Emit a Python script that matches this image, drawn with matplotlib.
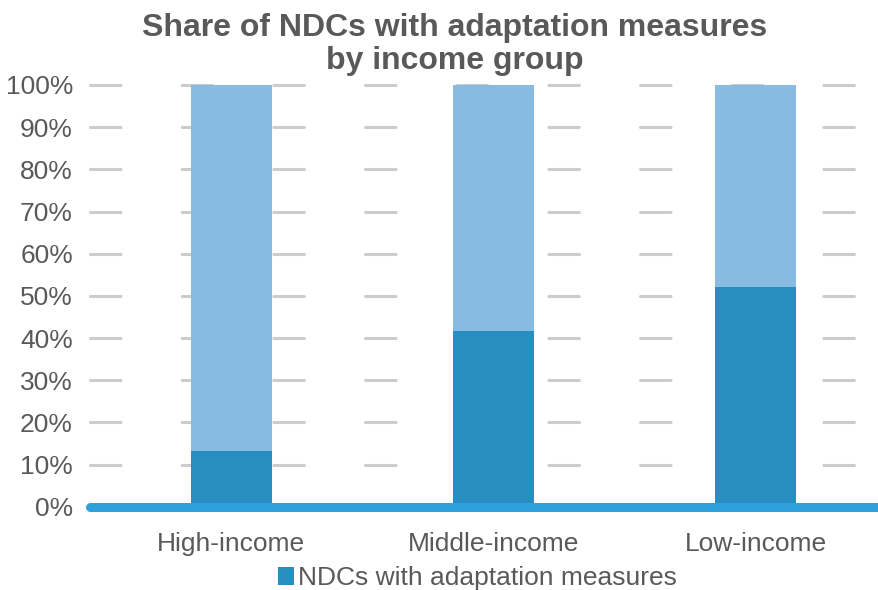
import matplotlib.pyplot as plt
import numpy as np

categories = ['High-income', 'Middle-income', 'Low-income']
with_adaptation = [13.3, 41.7, 52.0]
total = [100, 100, 100]
yticks = [0, 10, 20, 30, 40, 50, 60, 70, 80, 90, 100]

dark = '#288DC1'
light = '#88BBE2'
grey_txt = '#595959'

plt.rcParams['font.family'] = ['Liberation Sans', 'DejaVu Sans']

fig = plt.figure(figsize=(8.79, 5.90), dpi=100)
ax = fig.add_axes([0.102, 0.141, 0.898, 0.715])

x = np.arange(len(categories))
rest = [t - w for t, w in zip(total, with_adaptation)]
ax.bar(x, with_adaptation, width=0.31, color=dark, zorder=3,
       label='NDCs with adaptation measures')
ax.bar(x, rest, width=0.31, bottom=with_adaptation, color=light, zorder=3)

# sketchy dashed gridlines
for t in yticks[1:]:
    ln = ax.axhline(t, color='#CCCCCC', lw=2.2, zorder=1, clip_on=False,
                    solid_capstyle='round', dash_capstyle='round')
    ln.set_dashes([10, 20])
# thick baseline
ax.axhline(0, color='#2EA0DA', lw=6.5, zorder=4, clip_on=False,
           solid_capstyle='round')

ax.set_xlim(-0.54, 2.47)
ax.set_ylim(0, 100)
ax.set_yticks(yticks)
ax.set_yticklabels([f'{t}%' for t in yticks])
ax.set_xticks(x)
ax.set_xticklabels(categories)
ax.tick_params(axis='both', length=0, labelsize=19, labelcolor=grey_txt)
ax.tick_params(axis='x', pad=18)
ax.tick_params(axis='y', pad=12)
for s in ax.spines.values():
    s.set_visible(False)

fig.text(0.517, 0.978, 'Share of NDCs with adaptation measures\nby income group',
         ha='center', va='top', fontsize=23, fontweight='bold',
         color=grey_txt, linespacing=1.12)

fig.legend(loc='center', bbox_to_anchor=(0.543, 0.02), frameon=False,
           fontsize=19, labelcolor=grey_txt, handlelength=0.6,
           handleheight=0.7, handletextpad=0.15)

fig.savefig('out.png', dpi=100)
